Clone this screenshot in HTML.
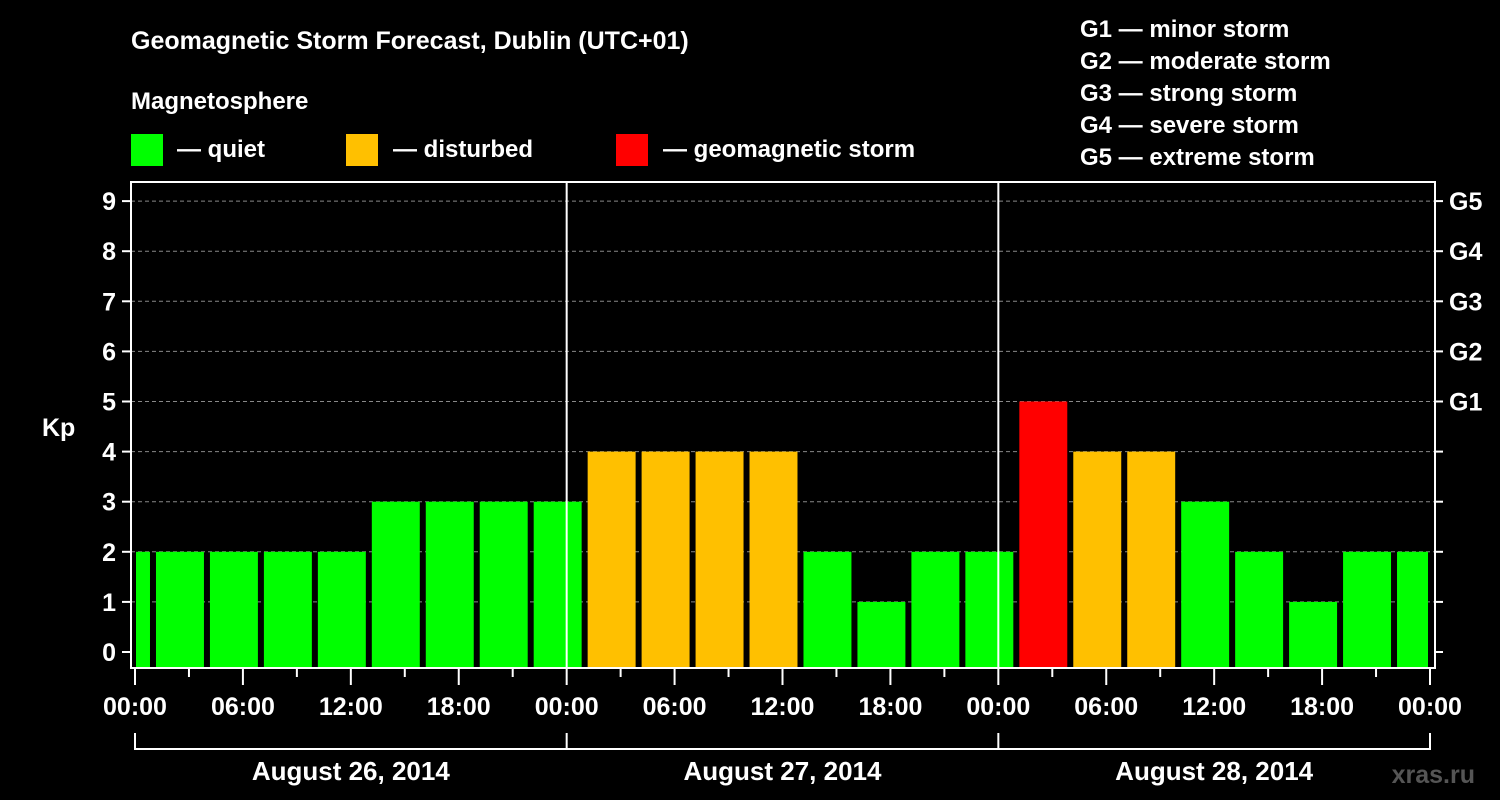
<!DOCTYPE html>
<html><head><meta charset="utf-8"><style>
body{margin:0;background:#000;width:1500px;height:800px;overflow:hidden}
svg{display:block;font-family:"Liberation Sans",sans-serif;font-weight:bold;fill:#fff}
</style></head><body>
<svg id="c" width="1500" height="800">
<text x="131" y="49" font-size="25">Geomagnetic Storm Forecast, Dublin (UTC+01)</text>
<text x="131" y="109" font-size="24">Magnetosphere</text>
<g><rect x="131" y="134" width="32" height="32" fill="#00ff00"/><text x="177" y="157" font-size="24">— quiet</text></g>
<g><rect x="346" y="134" width="32" height="32" fill="#ffc000"/><text x="393" y="157" font-size="24">— disturbed</text></g>
<g><rect x="616" y="134" width="32" height="32" fill="#ff0000"/><text x="663" y="157" font-size="24">— geomagnetic storm</text></g>
<g font-size="24">
<text x="1080" y="37">G1 — minor storm</text><text x="1080" y="69">G2 — moderate storm</text><text x="1080" y="101">G3 — strong storm</text><text x="1080" y="133">G4 — severe storm</text><text x="1080" y="165">G5 — extreme storm</text></g>
<text x="42" y="436" font-size="25">Kp</text>
<text x="1475" y="783" font-size="25" fill="#555" text-anchor="end">xras.ru</text>
<g id="grid"></g><g id="bars"></g><g id="axes"></g>
</svg>
<script>
const values=[2,2,2,2,2,3,3,3,3,4,4,4,4,2,1,2,2,5,4,4,3,2,1,2,2];
const yTicks=[0,1,2,3,4,5,6,7,8,9];
const gLabels=["","","","","","G1","G2","G3","G4","G5"];
const xLabels=["00:00","06:00","12:00","18:00","00:00","06:00","12:00","18:00","00:00","06:00","12:00","18:00","00:00"];
const days=["August 26, 2014","August 27, 2014","August 28, 2014"];
const startHour=-2, stepHours=3, totalHours=72;
const X0=135,X1=1430,L=131,R=1435,T=182,B=668;
const x=h=>X0+(X1-X0)*h/totalHours;
const y=v=>652-50.1*v;
const NS="http://www.w3.org/2000/svg";
function mk(p,t,a){const e=document.createElementNS(NS,t);for(const k in a)e.setAttribute(k,a[k]);p.appendChild(e);return e;}
const grid=document.getElementById('grid'),bars=document.getElementById('bars'),axes=document.getElementById('axes');
yTicks.forEach(v=>{if(v>0){const l=mk(grid,'line',{x1:L,x2:R,y1:y(v),y2:y(v),stroke:'#888','stroke-dasharray':'4,3','stroke-width':1});

}});
values.forEach((v,i)=>{let h0=startHour+i*stepHours,h1=h0+stepHours;
let a=Math.max(x(h0)+3,X0+1),b=Math.min(x(h1)-3,X1-2);
const c=v>=5?'#ff0000':v>=4?'#ffc000':'#00ff00';
const r=mk(bars,'rect',{x:a,y:y(v),width:b-a,height:B-1-y(v),fill:c});

});
mk(axes,'rect',{x:L,y:T,width:R-L,height:B-T,fill:'none',stroke:'#fff','stroke-width':2});
[1,2].forEach(d=>{const l=mk(axes,'line',{x1:x(d*24),x2:x(d*24),y1:T,y2:B,stroke:'#fff','stroke-width':2});

});
yTicks.forEach(v=>{mk(axes,'line',{x1:122,x2:L,y1:y(v),y2:y(v),stroke:'#fff','stroke-width':2});
mk(axes,'line',{x1:R,x2:1443,y1:y(v),y2:y(v),stroke:'#fff','stroke-width':2});
const t=mk(axes,'text',{x:116,y:y(v)+9,'font-size':25,'text-anchor':'end'});t.textContent=v;


if(gLabels[v]){const g=mk(axes,'text',{x:1449,y:y(v)+9,'font-size':25});g.textContent=gLabels[v];

}});
for(let h=0;h<=totalHours;h+=3){const major=h%6===0;
mk(axes,'line',{x1:x(h),x2:x(h),y1:B+1,y2:B+(major?17:9),stroke:'#fff','stroke-width':2});}
xLabels.forEach((s,i)=>{const t=mk(axes,'text',{x:x(i*6),y:715,'font-size':25,'text-anchor':'middle'});t.textContent=s;

});
mk(axes,'line',{x1:X0,x2:X1,y1:749,y2:749,stroke:'#fff','stroke-width':2});
for(let d=0;d<=3;d++)mk(axes,'line',{x1:x(d*24),x2:x(d*24),y1:733,y2:750,stroke:'#fff','stroke-width':2});
days.forEach((s,i)=>{const t=mk(axes,'text',{x:x(i*24+12),y:780,'font-size':26,'text-anchor':'middle'});t.textContent=s;

});
</script>
</body></html>
